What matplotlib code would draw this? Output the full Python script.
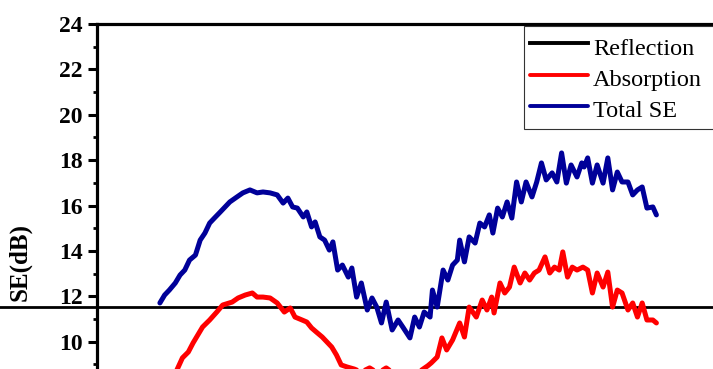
import numpy as np
import matplotlib.pyplot as plt

# Frequency (GHz) and shielding effectiveness (dB)
freq_total = [8.20, 8.24, 8.28, 8.33, 8.37, 8.41, 8.45, 8.50, 8.54, 8.58,
              8.62, 8.66, 8.71, 8.75, 8.79, 8.85, 8.90, 8.96, 9.02, 9.07,
              9.13, 9.19, 9.24, 9.28, 9.32, 9.36, 9.41, 9.44, 9.48, 9.51,
              9.55, 9.59, 9.63, 9.66, 9.70, 9.74, 9.79, 9.82, 9.86, 9.90,
              9.95, 9.99, 10.03, 10.07, 10.11, 10.16, 10.21, 10.25, 10.31, 10.35,
              10.39, 10.43, 10.48, 10.50, 10.54, 10.59, 10.63, 10.67, 10.71, 10.73,
              10.77, 10.81, 10.86, 10.90, 10.94, 10.98, 11.01, 11.05, 11.09, 11.13,
              11.17, 11.21, 11.25, 11.29, 11.34, 11.38, 11.42, 11.46, 11.51, 11.55,
              11.59, 11.63, 11.67, 11.72, 11.76, 11.78, 11.81, 11.85, 11.89, 11.94,
              11.98, 12.02, 12.06, 12.10, 12.15, 12.19, 12.23, 12.27, 12.31, 12.36,
              12.39]
se_total = [11.71, 12.06, 12.28, 12.59, 12.94, 13.16, 13.60, 13.82, 14.48, 14.79,
            15.23, 15.45, 15.72, 15.94, 16.16, 16.38, 16.56, 16.69, 16.56, 16.60,
            16.56, 16.47, 16.11, 16.33, 15.94, 15.89, 15.50, 15.72, 15.06, 15.28,
            14.62, 14.48, 14.04, 14.40, 13.16, 13.38, 12.85, 13.25, 11.97, 12.59,
            11.40, 11.93, 11.53, 10.83, 11.75, 10.52, 10.96, 10.65, 10.17, 11.09,
            10.65, 11.31, 11.09, 12.28, 11.53, 13.16, 12.72, 13.38, 13.60, 14.48,
            13.52, 14.62, 14.35, 15.23, 15.06, 15.59, 14.79, 15.89, 15.50, 16.16,
            15.45, 17.04, 16.16, 17.04, 16.38, 17.04, 17.88, 17.13, 17.44, 17.04,
            18.32, 16.99, 17.79, 17.26, 17.88, 17.70, 18.10, 16.99, 17.79, 16.99,
            18.10, 16.69, 17.48, 17.04, 17.04, 16.47, 16.69, 16.82, 15.89, 15.94,
            15.59]

freq_abs = [8.32, 8.39, 8.44, 8.48, 8.52, 8.56, 8.62, 8.68, 8.73, 8.81,
            8.86, 8.92, 8.98, 9.02, 9.07, 9.13, 9.19, 9.25, 9.30, 9.34,
            9.40, 9.44, 9.48, 9.52, 9.57, 9.61, 9.65, 9.69, 9.73, 9.78,
            9.84, 9.90, 9.97, 10.04, 10.11, 10.18, 10.27, 10.35, 10.41, 10.46,
            10.49, 10.54, 10.58, 10.62, 10.67, 10.73, 10.77, 10.81, 10.87, 10.92,
            10.96, 11.00, 11.02, 11.07, 11.11, 11.15, 11.19, 11.24, 11.28, 11.32,
            11.36, 11.40, 11.45, 11.49, 11.53, 11.57, 11.60, 11.64, 11.68, 11.72,
            11.77, 11.81, 11.85, 11.89, 11.94, 11.98, 12.02, 12.06, 12.10, 12.15,
            12.19, 12.23, 12.27, 12.31, 12.36, 12.39]
se_abs = [8.49, 9.29, 9.55, 9.95, 10.30, 10.65, 10.96, 11.31, 11.62, 11.75,
          11.93, 12.06, 12.15, 11.97, 11.97, 11.93, 11.71, 11.31, 11.49, 11.09,
          10.96, 10.87, 10.61, 10.43, 10.21, 9.99, 9.77, 9.42, 8.98, 8.89,
          8.80, 8.67, 8.85, 8.62, 8.85, 8.58, 8.71, 8.54, 8.76, 8.94,
          9.07, 9.33, 10.17, 9.64, 10.08, 10.83, 10.21, 11.53, 11.09, 11.84,
          11.40, 11.97, 11.27, 12.59, 12.15, 12.41, 13.29, 12.59, 13.03, 12.72,
          13.03, 13.16, 13.74, 13.03, 13.29, 13.16, 13.96, 12.85, 13.29, 13.16,
          13.29, 13.16, 12.15, 13.03, 12.41, 13.07, 11.53, 12.28, 12.15, 11.40,
          11.71, 11.09, 11.71, 10.96, 10.96, 10.83]

# the black reflection trace shows as a flat line in this crop
se_refl = 11.55

labels = ['Reflection', 'Absorption', 'Total SE']
colors = ['black', '#ff0000', '#000099']

plt.rcParams['font.family'] = ['Liberation Serif', 'DejaVu Serif']

fig = plt.figure(figsize=(7.13, 3.69), dpi=100)
ax = fig.add_axes([0.136, -0.0493, 0.886, 0.9843])

ax.axhline(se_refl, xmin=-0.2, xmax=1.1, color=colors[0], lw=2.0,
           clip_on=False, label=labels[0])
ax.plot(freq_abs, se_abs, color=colors[1], lw=3.6, label=labels[1],
        solid_joinstyle='round', solid_capstyle='round')
ax.plot(freq_total, se_total, color=colors[2], lw=3.6, label=labels[2],
        solid_joinstyle='round', solid_capstyle='round')

ax.set_xlim(7.669, 13.0)
ax.set_ylim(8, 24)
ax.set_yticks(np.arange(10, 25, 2))
ax.set_yticks(np.arange(9, 25, 2), minor=True)
ax.set_xticks([])

for side in ['left', 'top', 'right', 'bottom']:
    ax.spines[side].set_linewidth(2.3)
ax.tick_params(axis='y', which='major', direction='out', length=6.5,
               width=2.2, pad=4, labelsize=17)
ax.tick_params(axis='y', which='minor', direction='out', length=3,
               width=2.0)
for lab in ax.get_yticklabels():
    lab.set_fontweight('bold')

ax.set_ylabel('SE(dB)', fontsize=18, fontweight='bold')
ax.yaxis.set_label_coords(-0.103, 0.345)

leg = ax.legend(loc='upper left', bbox_to_anchor=(0.6756, 0.5, 0.4, 0.494),
                mode='expand', borderaxespad=0, fontsize=17.5,
                handlelength=2.4, handleheight=1.42, handletextpad=0.2,
                labelspacing=0.12, borderpad=0.25, fancybox=False,
                framealpha=1)
leg.get_frame().set_edgecolor('#333333')
leg.get_frame().set_linewidth(0.8)
for h in leg.get_lines():
    h.set_linewidth(2.8)

fig.savefig('out.png', dpi=100)
